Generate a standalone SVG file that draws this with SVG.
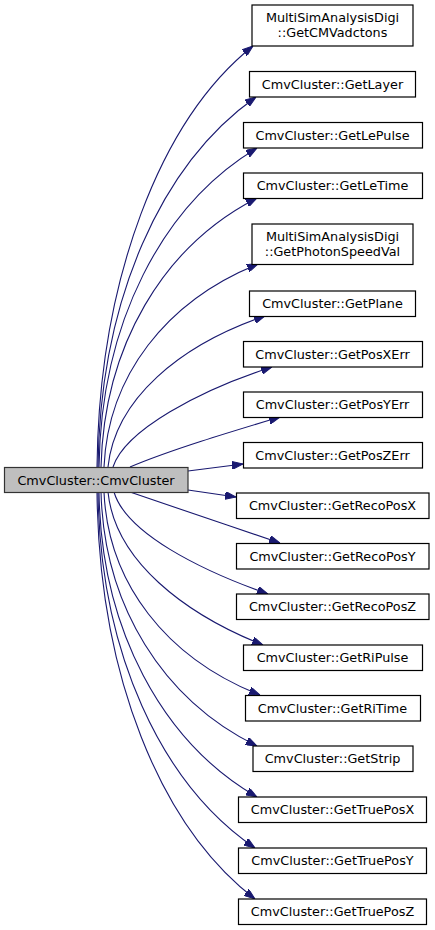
<svg xmlns="http://www.w3.org/2000/svg" width="435" height="930" viewBox="0 0 435 930">
<style>
.n rect{fill:#ffffff;stroke:#000000;stroke-width:1.2}
.m rect{fill:#bfbfbf;stroke:#333333;stroke-width:1.2}
text{font-family:"DejaVu Sans","Noto Sans",sans-serif;font-size:12.8px;fill:#000000;text-anchor:middle}
.e path{fill:none;stroke:#191970;stroke-width:1.1;marker-end:url(#ah)}
</style>
<defs>
<marker id="ah" viewBox="0 0 11 8" refX="11" refY="4" markerWidth="11" markerHeight="8" markerUnits="userSpaceOnUse" orient="auto">
<path d="M0,0 L11,4 L0,8 z" fill="#191970" stroke="#191970" stroke-width="1"/>
</marker>
</defs>
<rect width="435" height="930" fill="#ffffff"/>
<g id="edges" class="e">
<path d="M97,467 C99,280 160,120 253,46"/>
<path d="M98,467 C100,300 161,164 256,97"/>
<path d="M99,467 C101,323 162,205 257,148"/>
<path d="M101,467 C104,346 163,246 257,198"/>
<path d="M104,467 C108,376 166,301 258,264"/>
<path d="M108,467 C115,399 180,345 265,316"/>
<path d="M113,467 C125,430 200,390 272,367"/>
<path d="M130,467 C170,450 230,432 280,417"/>
<path d="M188,471 L243,464"/>
<path d="M188,490 L236,497"/>
<path d="M130,492 C170,506 230,526 280,543"/>
<path d="M114,492 C126,533 200,570 268,594"/>
<path d="M108,492 C115,561 185,614 263,645"/>
<path d="M104,492 C108,583 166,658 260,695"/>
<path d="M101,492 C104,606 163,700 257,746"/>
<path d="M99,492 C101,629 162,742 257,797"/>
<path d="M98,492 C100,652 161,784 255,848"/>
<path d="M97,492 C99,675 160,826 255,899"/>
</g>
<g id="main" class="m"><rect x="4.5" y="467.5" width="183.5" height="25"/><text x="96" y="484.5">CmvCluster::CmvCluster</text></g>
<g id="n1" class="n"><rect x="252" y="5" width="161" height="41"/><text x="332.5" y="22">MultiSimAnalysisDigi</text><text x="332.5" y="37">::GetCMVadctons</text></g>
<g id="n2" class="n"><rect x="249.5" y="71.5" width="166" height="25.5"/><text x="332.5" y="88.5">CmvCluster::GetLayer</text></g>
<g id="n3" class="n"><rect x="243.5" y="122.5" width="179" height="25.5"/><text x="332.5" y="139.5">CmvCluster::GetLePulse</text></g>
<g id="n4" class="n"><rect x="243.5" y="173" width="179" height="25.5"/><text x="332.5" y="190">CmvCluster::GetLeTime</text></g>
<g id="n5" class="n"><rect x="252" y="224" width="161" height="40.5"/><text x="332.5" y="241">MultiSimAnalysisDigi</text><text x="332.5" y="256">::GetPhotonSpeedVal</text></g>
<g id="n6" class="n"><rect x="249.5" y="291" width="166" height="25.5"/><text x="332.5" y="308">CmvCluster::GetPlane</text></g>
<g id="n7" class="n"><rect x="243.5" y="341.5" width="179" height="25.5"/><text x="332.5" y="358.5">CmvCluster::GetPosXErr</text></g>
<g id="n8" class="n"><rect x="243.5" y="392" width="179" height="25.5"/><text x="332.5" y="409">CmvCluster::GetPosYErr</text></g>
<g id="n9" class="n"><rect x="243.5" y="442.5" width="179" height="25.5"/><text x="332.5" y="459.5">CmvCluster::GetPosZErr</text></g>
<g id="n10" class="n"><rect x="236.5" y="493" width="192.5" height="25.5"/><text x="332.5" y="510">CmvCluster::GetRecoPosX</text></g>
<g id="n11" class="n"><rect x="236.5" y="543.5" width="192.5" height="25.5"/><text x="332.5" y="560.5">CmvCluster::GetRecoPosY</text></g>
<g id="n12" class="n"><rect x="236.5" y="594" width="192.5" height="25.5"/><text x="332.5" y="611">CmvCluster::GetRecoPosZ</text></g>
<g id="n13" class="n"><rect x="243.5" y="645" width="179" height="25.5"/><text x="332.5" y="662">CmvCluster::GetRiPulse</text></g>
<g id="n14" class="n"><rect x="245.5" y="695.5" width="175" height="25.5"/><text x="332.5" y="712.5">CmvCluster::GetRiTime</text></g>
<g id="n15" class="n"><rect x="253" y="746" width="160" height="25.5"/><text x="332.5" y="763">CmvCluster::GetStrip</text></g>
<g id="n16" class="n"><rect x="238.5" y="797" width="188" height="25.5"/><text x="332.5" y="814">CmvCluster::GetTruePosX</text></g>
<g id="n17" class="n"><rect x="238.5" y="848" width="188" height="25.5"/><text x="332.5" y="865">CmvCluster::GetTruePosY</text></g>
<g id="n18" class="n"><rect x="238.5" y="899" width="188" height="25.5"/><text x="332.5" y="916">CmvCluster::GetTruePosZ</text></g>
</svg>
